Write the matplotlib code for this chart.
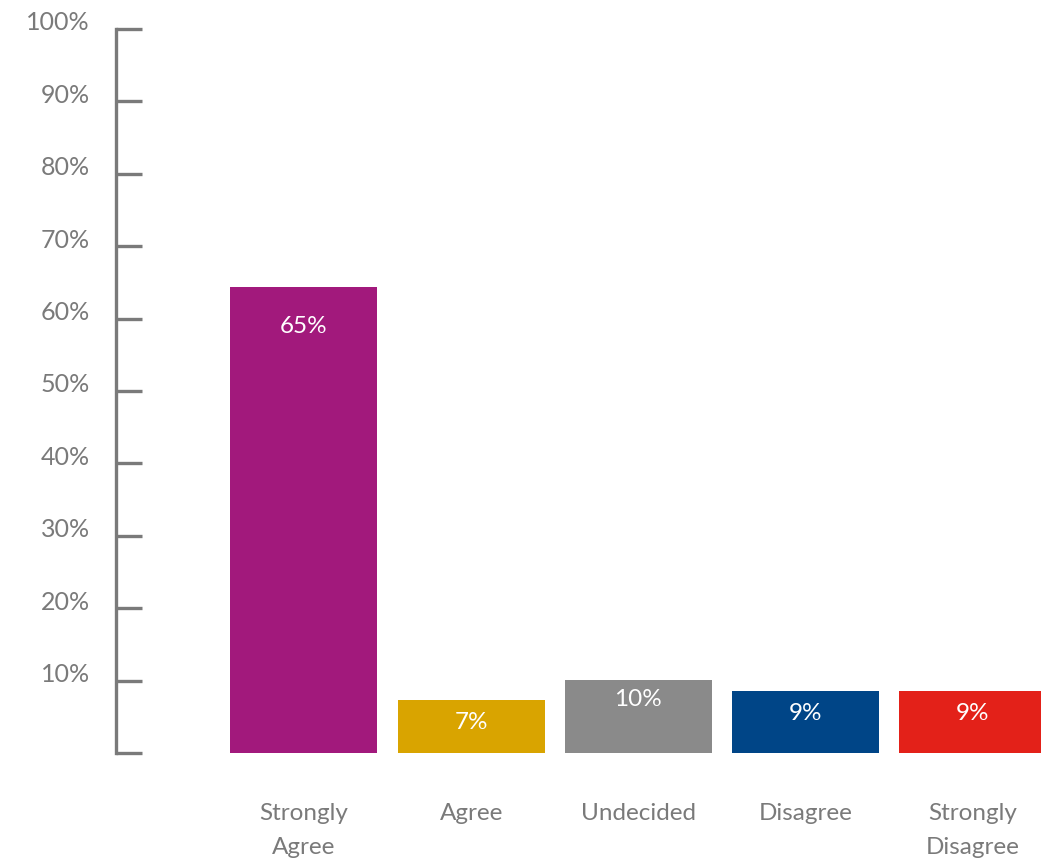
import matplotlib
matplotlib.use("Agg")
import matplotlib.pyplot as plt
from matplotlib.transforms import ScaledTranslation

plt.rcParams['font.family'] = ['Lato', 'DejaVu Sans']

# data
categories = ["Strongly\nAgree", "Agree", "Undecided", "Disagree", "Strongly\nDisagree"]
shares = [64.4, 7.3, 10.1, 8.6, 8.6]
share_labels = ["65%", "7%", "10%", "9%", "9%"]
y_ticks = [0, 10, 20, 30, 40, 50, 60, 70, 80, 90, 100]
y_tick_labels = ["", "10%", "20%", "30%", "40%", "50%", "60%", "70%", "80%", "90%", "100%"]

colors = ["#A2197C", "#D9A400", "#8A8A8A", "#004587", "#E32119"]
grey = "#7a7a7a"

fig = plt.figure(figsize=(10.41, 8.61), dpi=100)
ax = fig.add_axes([116 / 1041, 108 / 861, 1 - 116 / 1041, 724 / 861])

xs = list(range(len(categories)))
bars = ax.bar(xs, shares, width=0.88, color=colors)

# value labels, white, just under the top of each bar
drops = [40, 22, 20, 23, 23]  # px below bar top
for b, lab, d in zip(bars, share_labels, drops):
    ax.annotate(lab, (b.get_x() + b.get_width() / 2, b.get_height()),
                xytext=(0, -d * 0.72), textcoords="offset points",
                ha="center", va="center", color="white", fontsize=17.5)

# category labels below the axis
for x, cat in zip(xs, categories):
    ax.annotate(cat, (x, 0), xytext=(0, -50 * 0.72), textcoords="offset points",
                ha="center", va="top", color=grey, fontsize=17.5, linespacing=1.75)

ax.set_xlim(-1.123, 4.407)
ax.set_ylim(0, 100)
ax.set_xticks([])
ax.set_yticks(y_ticks)
ax.set_yticklabels(y_tick_labels, fontsize=18, color=grey)
ax.tick_params(axis="y", direction="in", length=26 * 0.72, width=2.4,
               color=grey, pad=19)
for lab in ax.get_yticklabels():
    lab.set_transform(lab.get_transform() + ScaledTranslation(0, 8 / 100, fig.dpi_scale_trans))

for side in ["top", "right", "bottom"]:
    ax.spines[side].set_visible(False)
ax.spines["left"].set_color(grey)
ax.spines["left"].set_linewidth(2.4)

fig.savefig("out.png", dpi=100)
